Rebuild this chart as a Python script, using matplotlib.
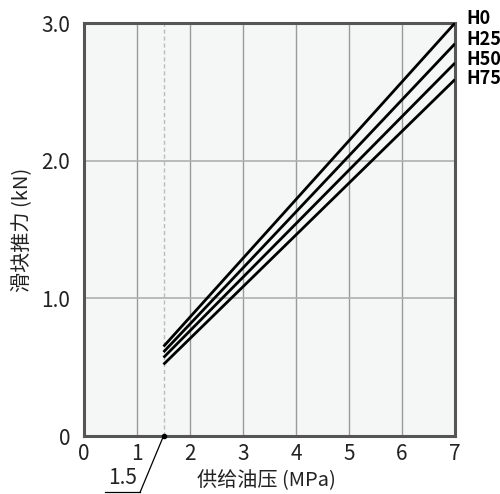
import matplotlib.pyplot as plt
import numpy as np

plt.rcParams['font.family'] = ['Noto Sans CJK SC', 'DejaVu Sans']

# supply pressure (MPa) and slider thrust (kN) at the two ends of each line
pressure = [1.5, 7.0]
series = ['H0', 'H25', 'H50', 'H75']
thrust = {
    'H0': [0.65, 3.00],
    'H25': [0.61, 2.85],
    'H50': [0.57, 2.71],
    'H75': [0.52, 2.59],
}
x_ticks = [0, 1, 2, 3, 4, 5, 6, 7]
y_ticks = [0, 1.0, 2.0, 3.0]
y_tick_labels = ['0', '1.0', '2.0', '3.0']
min_pressure = 1.5

fig = plt.figure(figsize=(5.0, 4.94), dpi=100)
ax = fig.add_axes([0.168, 0.1174, 0.742, 0.836])
ax.set_facecolor('#f5f7f7')

for x in x_ticks[1:-1]:
    ax.axvline(x, color='#9a9a9a', lw=1.0, zorder=1)
for y in y_ticks[1:-1]:
    ax.axhline(y, color='#b0b0b0', lw=1.2, zorder=1)
ax.axvline(min_pressure, color='#bbbbbb', lw=1.0, ls=(0, (3, 2)), zorder=1)

for name in series:
    ax.plot(pressure, thrust[name], color='black', lw=2.0, zorder=3,
            solid_capstyle='butt')

ax.set_xlim(0, 7)
ax.set_ylim(0, 3)
ax.set_xticks(x_ticks)
ax.set_yticks(y_ticks)
ax.set_yticklabels(y_tick_labels)
ax.tick_params(length=0, labelsize=15, colors='#222222')
ax.tick_params(axis='x', pad=5)
ax.tick_params(axis='y', pad=10)
for s in ax.spines.values():
    s.set_color('#555555')
    s.set_linewidth(2.2)

fig.text(0.532, 1 - 481 / 494, '供给油压 (MPa)', fontsize=14.5, ha='center',
         va='center', color='#222222')
fig.text(0.044, 1 - 230 / 494, '滑块推力 (kN)', fontsize=14.5, ha='center',
         va='center', rotation=90, color='#222222')

# series labels on the right
label_y = [3.03, 2.88, 2.735, 2.60]
for name, ly in zip(series, label_y):
    ax.text(1.03, ly / 3, name, transform=ax.transAxes, fontsize=13,
            fontweight='bold', va='center', ha='left', clip_on=False)

# 1.5 MPa annotation
ax.plot([min_pressure], [0], 'o', color='black', ms=3, clip_on=False, zorder=5)
ax.annotate('', xy=(min_pressure, 0), xytext=(1.06, -0.407),
            arrowprops=dict(arrowstyle='-', color='black', lw=0.9,
                            shrinkA=0, shrinkB=0),
            annotation_clip=False)
ax.plot([0.40, 1.06], [-0.407, -0.407], color='black', lw=0.9, clip_on=False)
ax.text(0.72, -0.305, '1.5', fontsize=15, ha='center', va='center', color='#222222')

fig.savefig('out.png', dpi=100)
